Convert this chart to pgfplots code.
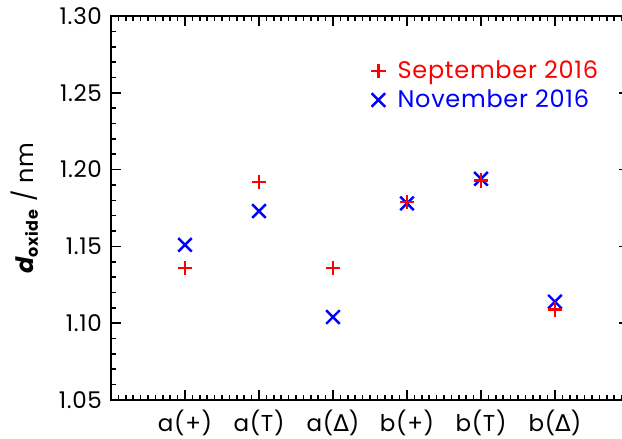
\documentclass[border=0pt]{standalone}
\usepackage{pgfplots}
\pgfplotsset{compat=1.18}
\usepackage{fontspec}
\setmainfont{Poppins}[LetterSpace=3]
\newfontfamily\grk{DejaVu Sans}
\begin{document}
\begin{tikzpicture}
\begin{axis}[
  name=ax,
  scale only axis,
  width=259pt, height=192pt,
  xmin=0, xmax=7, ymin=1.05, ymax=1.30,
  xtick={0,1,2,3,4,5,6,7},
  xticklabels={,a(+),a(T),a({\grk Δ}),b(+),b(T),b({\grk Δ}),},
  minor x tick num=9,
  ytick={1.05,1.10,1.15,1.20,1.25,1.30},
  minor y tick num=4,
  yticklabel style={/pgf/number format/fixed, /pgf/number format/fixed zerofill, /pgf/number format/precision=2, /pgf/number format/assume math mode=true, xshift=-1pt},
  tick align=inside,
  major tick length=5pt,
  minor tick length=2.5pt,
  every tick/.style={black, line width=0.8pt},
  axis line style={line width=1pt},
  tick label style={font=\fontsize{11.5}{13}\selectfont},
  xticklabel style={yshift=-1.5pt},
  ylabel={{\bfseries\itshape d}\textsubscript{\bfseries oxide} / nm},
  ylabel style={font=\fontsize{12}{13}\selectfont, at={(rel axis cs:0,0.5)}, anchor=south, yshift=33pt},
  legend style={draw=none, fill=none, at={(rel axis cs:0.49,0.905)}, anchor=north west, font=\fontsize{12}{14}\selectfont, row sep=0pt},
  legend cell align=left,
  reverse legend,
]
\addplot[only marks, mark=x, color=blue, mark size=4.8pt, line width=1.2pt] coordinates {
  (1,1.151) (2,1.173) (3,1.104) (4,1.178) (5,1.194) (6,1.114)
};
\addlegendentry{\hspace{4pt}\textcolor{blue}{November 2016}}
\addplot[only marks, mark=+, color=red, mark size=3.6pt, line width=1.2pt] coordinates {
  (1,1.136) (2,1.192) (3,1.136) (4,1.179) (5,1.193) (6,1.109)
};
\addlegendentry{\hspace{4pt}\textcolor{red}{September 2016}}
\end{axis}
\pgfresetboundingbox
\path (ax.south west) ++(-55.5pt,-19.5pt) rectangle ++(311pt,219.5pt);
\end{tikzpicture}
\end{document}
